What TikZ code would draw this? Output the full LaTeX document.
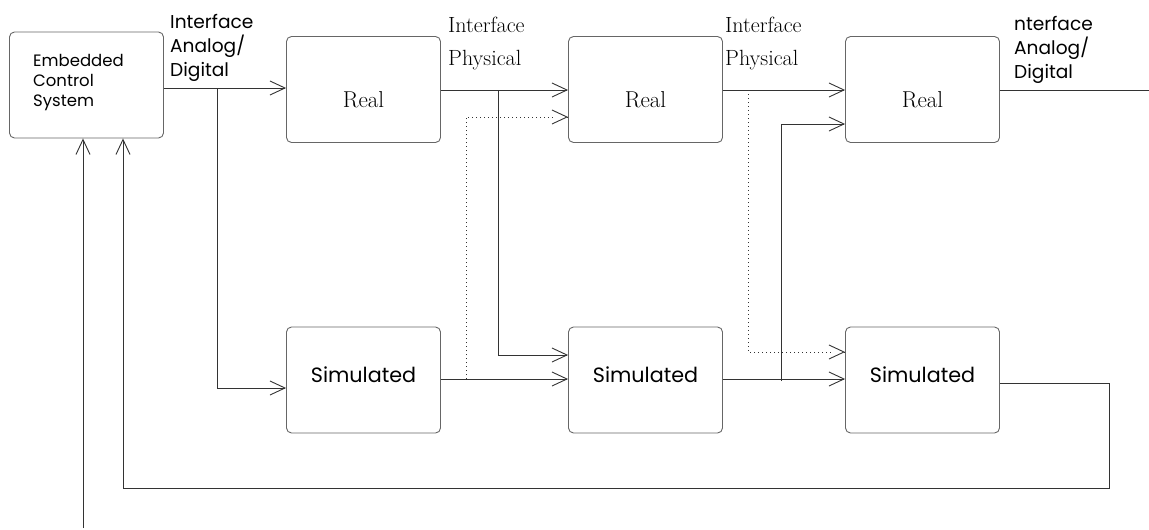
\documentclass[tikz,border=0pt]{standalone}
\usepackage{fontspec}
\newfontfamily\geofont{Poppins}
\usetikzlibrary{arrows.meta,calc}

\tikzset{
  block/.style={draw=black!60, line width=0.9pt, rounded corners=5pt,
    minimum width=154pt, minimum height=106pt, inner sep=0pt},
  wire/.style={draw=black!80, line width=0.9pt},
  arr/.style={wire, -{Straight Barb[length=15pt,width=14pt,line width=0.9pt]}},
  dotwire/.style={wire, line width=1pt, dash pattern=on 1pt off 3pt},
  sanslbl/.style={font=\geofont\fontsize{18.6}{24}\selectfont, align=left, inner sep=0pt, anchor=north west},
  seriflbl/.style={font=\fontsize{22}{33}\selectfont, align=left, inner sep=0pt, anchor=north west},
  blocktxt/.style={inner sep=0pt}
}

\begin{document}
\begin{tikzpicture}[x=1pt, y=-1pt]
\useasboundingbox (0,0) rectangle (1149,530);

% controller
\node[block] (e) at (86.5,85) {};
\node[blocktxt, anchor=north west, align=left, font=\geofont\fontsize{16.5}{20}\selectfont]
  (etxt) at (33,54.5) {Embedded\\Control\\System};

% real blocks
\node[block] (r1) at (363.5,89.5) {};
\node[block] (r2) at (645.5,89.5) {};
\node[block] (r3) at (922.5,89.5) {};
\foreach \b in {r1,r2,r3}
  \node[blocktxt, anchor=base, font=\fontsize{23}{26}\selectfont] (\b t) at ($(\b.center)+(0,17.5)$) {Real};

% simulated blocks
\node[block] (s1) at (363.5,380) {};
\node[block] (s2) at (645.5,380) {};
\node[block] (s3) at (922.5,380) {};
\foreach \b in {s1,s2,s3}
  \node[blocktxt, anchor=base, font=\geofont\fontsize{20.7}{24}\selectfont] (\b t) at ($(\b.center)+(0,2)$) {Simulated};

% interface labels
\node[sanslbl] (ia1) at (170,14) {Interface\\Analog/\\Digital};
\node[seriflbl] (ip1) at (448,17) {Interface\\Physical};
\node[seriflbl] (ip2) at (725,17) {Interface\\Physical};
\node[sanslbl] (ia2) at (1014,16) {nterface\\Analog/\\Digital};

% junction points
\coordinate (j1) at (217,88);
\coordinate (j2) at (498,90);
\coordinate (j3) at (466,379);
\coordinate (j4) at (748,90);
\coordinate (j5) at (781,379);
\coordinate (out) at (1149,90);
\coordinate (fb1) at (1109,383);
\coordinate (fb2) at (1109,488);
\coordinate (fb3) at (123,488);
\coordinate (ext) at (83,528);

% top row
\draw[arr] (e.east |- j1) -- (r1.west |- j1);
\draw[arr] (r1.east |- j2) -- (r2.west |- j2);
\draw[arr] (r2.east |- j4) -- (r3.west |- j4);
\draw[wire] (r3.east |- out) -- (out);

% bottom row
\draw[arr] (j1) -- (217,388) -- (s1.west |- 0,388);
\draw[arr] (s1.east |- j3) -- (s2.west |- j3);
\draw[arr] (s2.east |- j5) -- (s3.west |- j5);

% cross links
\draw[arr] (j2) -- (498,355) -- (s2.west |- 0,355);
\draw[dotwire] (j3) -- (466,117) -- ($(r2.west |- 0,117)+(-14,0)$);
\draw[arr] ($(r2.west |- 0,117)+(-1,0)$) -- (r2.west |- 0,117);
\draw[dotwire] (j4) -- (748,352) -- ($(s3.west |- 0,352)+(-14,0)$);
\draw[arr] ($(s3.west |- 0,352)+(-1,0)$) -- (s3.west |- 0,352);
\draw[arr] (781,381) -- (781,124) -- (r3.west |- 0,124);

% feedback to the controller
\draw[arr] (s3.east |- fb1) -- (fb1) -- (fb2) -- (fb3) -- (fb3 |- e.south);
\draw[arr] (ext) -- (ext |- e.south);
\end{tikzpicture}
\end{document}
